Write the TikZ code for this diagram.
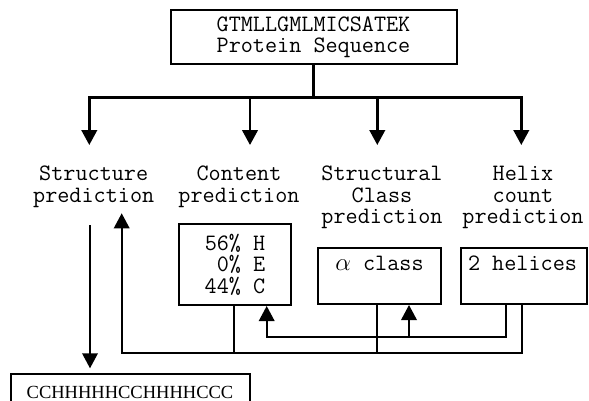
\documentclass[tikz,border=0pt]{standalone}
\usepackage{fontspec}
\usetikzlibrary{arrows.meta}
\newfontfamily\timesfont{Liberation Serif}
\begin{document}
\begin{tikzpicture}[x=1pt,y=-1pt,
  txt/.style={inner sep=0pt, font=\ttfamily\fontsize{23.5}{21.5}\selectfont, align=center},
  box/.style={draw, line width=2pt, inner sep=0pt},
  tree/.style={line width=2.6pt},
  conn/.style={line width=1.9pt},
  arr/.style={-{Triangle[length=15pt,width=15.5pt]}}]
\clip (0,0) rectangle (589,400);
\fill[white] (0,0) rectangle (589,400);

% top box
\node[box, txt, minimum width=286, minimum height=54.3] (top) at (313.5,37.2)
  {GTMLLGMLMICSATEK\\Protein Sequence};

% labels
\node[txt] (lstruct) at (93.7,187) {Structure\\prediction};
\node[txt] (lcontent) at (239,187) {Content\\prediction};
\node[txt] (lclass) at (382,197.5) {Structural\\Class\\prediction};
\node[txt] (lhelix) at (523,197.5) {Helix\\count\\prediction};

% result boxes
\node[box, txt, align=right, minimum width=111.4, minimum height=81] (cbox) at (235,264.5)
  {56\% H\\0\% E\\44\% C};
\node[box, minimum width=122.4, minimum height=56.3] (abox) at (379.5,275.85) {};
\node[txt] (atext) at (379.5,263) {$\alpha$ class};
\node[box, minimum width=125.8, minimum height=56.3] (hbox) at (523.6,275.85) {};
\node[txt] (htext) at (522.5,263) {2 helices};

% bottom box
\node[box, minimum width=239.3, minimum height=50, anchor=north] (sbox) at (130.35,373.3) {};
\node[inner sep=0pt, anchor=base, font=\timesfont\fontsize{18.5}{20}\selectfont] (stext) at (130,398) {CCHHHHHCCHHHHCCC};

% top tree
\coordinate (j0) at (313.5,97.5);
\coordinate (a1) at (89.3,145);
\coordinate (a2) at (250,145);
\coordinate (a3) at (377.3,145);
\coordinate (a4) at (521.3,145);
\draw[tree] (top.south) -- (j0);
\draw[tree, arr] (j0) -| (a1);
\draw[tree, arr] (j0) -| (a4);
\draw[tree, arr] (a2 |- j0) -- (a2);
\draw[tree, arr] (a3 |- j0) -- (a3);

% lower connectors
\coordinate (sd) at (90,225);
\coordinate (su) at (121.7,213.3);
\coordinate (low) at (0,352.7);
\coordinate (mid) at (0,336.7);
\coordinate (h1) at (521.7,0);
\coordinate (h2) at (506,0);
\coordinate (c1) at (234,0);
\coordinate (c2) at (266.7,0);
\coordinate (k1) at (377,0);
\coordinate (k2) at (409,0);

\draw[conn, arr] (sd) -- ([yshift=5pt]sbox.north -| sd);
\draw[conn, arr] (hbox.south -| h1) |- (su |- low) -- (su);
\draw[conn] (cbox.south -| c1) -- (c1 |- low);
\draw[conn] (abox.south -| k1) -- (k1 |- low);
\draw[conn, arr] (hbox.south -| h2) |- (c2 |- mid) -- (cbox.south -| c2);
\draw[conn, arr] (k2 |- mid) -- (abox.south -| k2);
\end{tikzpicture}
\end{document}
